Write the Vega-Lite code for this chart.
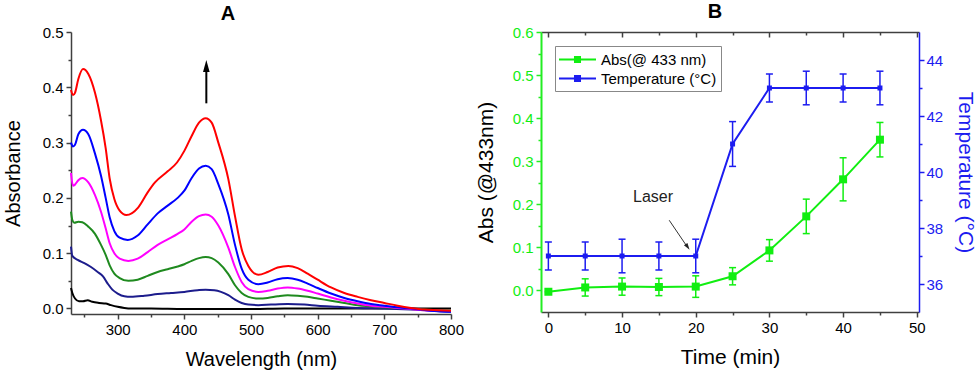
{
 "$schema": "https://vega.github.io/schema/vega-lite/v6.json",
 "padding": {"left": 3, "right": 3, "top": 2, "bottom": 3},
 "spacing": 11,
 "resolve": {"scale": {"color": "independent", "stroke": "independent"}, "legend": {"color": "independent", "stroke": "independent"}},
 "config": {
  "font": "Liberation Sans",
  "view": {"stroke": null},
  "axis": {"grid": false, "labelOverlap": false, "labelFontSize": 15, "titleFontSize": 20, "titleFontWeight": "normal", "labelColor": "#000", "titleColor": "#000", "domainColor": "#404040", "tickColor": "#404040", "domainWidth": 1.5, "tickWidth": 1.5, "tickSize": 5}
 },
 "datasets": {
  "spectra": [
   {"nm":230,"a":0.037,"s":"s1"},{"nm":232,"a":0.028,"s":"s1"},{"nm":236,"a":0.018,"s":"s1"},{"nm":242,"a":0.013,"s":"s1"},{"nm":248,"a":0.013,"s":"s1"},{"nm":255,"a":0.015,"s":"s1"},{"nm":262,"a":0.012,"s":"s1"},{"nm":272,"a":0.01,"s":"s1"},{"nm":282,"a":0.009,"s":"s1"},{"nm":290,"a":0.006,"s":"s1"},{"nm":300,"a":0.003,"s":"s1"},{"nm":310,"a":0.001,"s":"s1"},{"nm":320,"a":0.0,"s":"s1"},{"nm":350,"a":0.0,"s":"s1"},{"nm":400,"a":-0.001,"s":"s1"},{"nm":450,"a":-0.001,"s":"s1"},{"nm":500,"a":-0.001,"s":"s1"},{"nm":550,"a":0.0,"s":"s1"},{"nm":600,"a":0.0,"s":"s1"},{"nm":650,"a":0.0,"s":"s1"},{"nm":700,"a":0.0,"s":"s1"},{"nm":750,"a":0.0,"s":"s1"},{"nm":800,"a":0.0,"s":"s1"},
   {"nm":230,"a":0.112,"s":"s2"},{"nm":232,"a":0.095,"s":"s2"},{"nm":240,"a":0.088,"s":"s2"},{"nm":250,"a":0.082,"s":"s2"},{"nm":260,"a":0.075,"s":"s2"},{"nm":270,"a":0.066,"s":"s2"},{"nm":278,"a":0.058,"s":"s2"},{"nm":285,"a":0.045,"s":"s2"},{"nm":292,"a":0.034,"s":"s2"},{"nm":300,"a":0.027,"s":"s2"},{"nm":310,"a":0.022,"s":"s2"},{"nm":320,"a":0.021,"s":"s2"},{"nm":340,"a":0.023,"s":"s2"},{"nm":360,"a":0.026,"s":"s2"},{"nm":380,"a":0.028,"s":"s2"},{"nm":400,"a":0.03,"s":"s2"},{"nm":420,"a":0.033,"s":"s2"},{"nm":432,"a":0.034,"s":"s2"},{"nm":445,"a":0.033,"s":"s2"},{"nm":455,"a":0.03,"s":"s2"},{"nm":466,"a":0.024,"s":"s2"},{"nm":476,"a":0.016,"s":"s2"},{"nm":486,"a":0.01,"s":"s2"},{"nm":496,"a":0.007,"s":"s2"},{"nm":511,"a":0.006,"s":"s2"},{"nm":530,"a":0.007,"s":"s2"},{"nm":555,"a":0.008,"s":"s2"},{"nm":580,"a":0.007,"s":"s2"},{"nm":600,"a":0.005,"s":"s2"},{"nm":630,"a":0.003,"s":"s2"},{"nm":660,"a":0.001,"s":"s2"},{"nm":700,"a":0.0,"s":"s2"},{"nm":740,"a":-0.002,"s":"s2"},{"nm":770,"a":-0.004,"s":"s2"},{"nm":800,"a":-0.006,"s":"s2"},
   {"nm":230,"a":0.175,"s":"s3"},{"nm":232,"a":0.16,"s":"s3"},{"nm":235,"a":0.155,"s":"s3"},{"nm":241,"a":0.157,"s":"s3"},{"nm":247,"a":0.156,"s":"s3"},{"nm":256,"a":0.148,"s":"s3"},{"nm":266,"a":0.135,"s":"s3"},{"nm":275,"a":0.115,"s":"s3"},{"nm":282,"a":0.097,"s":"s3"},{"nm":288,"a":0.078,"s":"s3"},{"nm":295,"a":0.063,"s":"s3"},{"nm":303,"a":0.055,"s":"s3"},{"nm":316,"a":0.05,"s":"s3"},{"nm":330,"a":0.052,"s":"s3"},{"nm":345,"a":0.059,"s":"s3"},{"nm":360,"a":0.066,"s":"s3"},{"nm":375,"a":0.071,"s":"s3"},{"nm":390,"a":0.076,"s":"s3"},{"nm":400,"a":0.08,"s":"s3"},{"nm":411,"a":0.086,"s":"s3"},{"nm":422,"a":0.091,"s":"s3"},{"nm":432,"a":0.093,"s":"s3"},{"nm":441,"a":0.091,"s":"s3"},{"nm":451,"a":0.083,"s":"s3"},{"nm":466,"a":0.062,"s":"s3"},{"nm":476,"a":0.042,"s":"s3"},{"nm":486,"a":0.028,"s":"s3"},{"nm":496,"a":0.021,"s":"s3"},{"nm":511,"a":0.018,"s":"s3"},{"nm":525,"a":0.019,"s":"s3"},{"nm":540,"a":0.022,"s":"s3"},{"nm":555,"a":0.024,"s":"s3"},{"nm":570,"a":0.023,"s":"s3"},{"nm":585,"a":0.021,"s":"s3"},{"nm":600,"a":0.018,"s":"s3"},{"nm":620,"a":0.014,"s":"s3"},{"nm":640,"a":0.01,"s":"s3"},{"nm":660,"a":0.006,"s":"s3"},{"nm":680,"a":0.004,"s":"s3"},{"nm":700,"a":0.002,"s":"s3"},{"nm":720,"a":0.001,"s":"s3"},{"nm":740,"a":0.0,"s":"s3"},{"nm":760,"a":-0.002,"s":"s3"},{"nm":780,"a":-0.003,"s":"s3"},{"nm":800,"a":-0.004,"s":"s3"},
   {"nm":230,"a":0.245,"s":"s4"},{"nm":233,"a":0.222,"s":"s4"},{"nm":236,"a":0.224,"s":"s4"},{"nm":241,"a":0.232,"s":"s4"},{"nm":247,"a":0.236,"s":"s4"},{"nm":256,"a":0.228,"s":"s4"},{"nm":266,"a":0.205,"s":"s4"},{"nm":275,"a":0.175,"s":"s4"},{"nm":282,"a":0.145,"s":"s4"},{"nm":288,"a":0.118,"s":"s4"},{"nm":295,"a":0.1,"s":"s4"},{"nm":303,"a":0.09,"s":"s4"},{"nm":316,"a":0.086,"s":"s4"},{"nm":330,"a":0.09,"s":"s4"},{"nm":345,"a":0.102,"s":"s4"},{"nm":360,"a":0.115,"s":"s4"},{"nm":375,"a":0.125,"s":"s4"},{"nm":390,"a":0.135,"s":"s4"},{"nm":400,"a":0.143,"s":"s4"},{"nm":411,"a":0.157,"s":"s4"},{"nm":422,"a":0.167,"s":"s4"},{"nm":432,"a":0.17,"s":"s4"},{"nm":441,"a":0.166,"s":"s4"},{"nm":451,"a":0.15,"s":"s4"},{"nm":466,"a":0.11,"s":"s4"},{"nm":476,"a":0.075,"s":"s4"},{"nm":486,"a":0.048,"s":"s4"},{"nm":496,"a":0.035,"s":"s4"},{"nm":511,"a":0.03,"s":"s4"},{"nm":525,"a":0.032,"s":"s4"},{"nm":540,"a":0.036,"s":"s4"},{"nm":555,"a":0.038,"s":"s4"},{"nm":570,"a":0.036,"s":"s4"},{"nm":585,"a":0.032,"s":"s4"},{"nm":600,"a":0.027,"s":"s4"},{"nm":620,"a":0.02,"s":"s4"},{"nm":640,"a":0.014,"s":"s4"},{"nm":660,"a":0.009,"s":"s4"},{"nm":680,"a":0.005,"s":"s4"},{"nm":700,"a":0.003,"s":"s4"},{"nm":720,"a":0.001,"s":"s4"},{"nm":740,"a":-0.001,"s":"s4"},{"nm":760,"a":-0.003,"s":"s4"},{"nm":780,"a":-0.004,"s":"s4"},{"nm":800,"a":-0.005,"s":"s4"},
   {"nm":230,"a":0.3,"s":"s5"},{"nm":233,"a":0.293,"s":"s5"},{"nm":236,"a":0.296,"s":"s5"},{"nm":241,"a":0.315,"s":"s5"},{"nm":248,"a":0.323,"s":"s5"},{"nm":256,"a":0.315,"s":"s5"},{"nm":266,"a":0.28,"s":"s5"},{"nm":275,"a":0.24,"s":"s5"},{"nm":282,"a":0.2,"s":"s5"},{"nm":288,"a":0.165,"s":"s5"},{"nm":295,"a":0.14,"s":"s5"},{"nm":303,"a":0.128,"s":"s5"},{"nm":315,"a":0.124,"s":"s5"},{"nm":330,"a":0.132,"s":"s5"},{"nm":345,"a":0.152,"s":"s5"},{"nm":360,"a":0.172,"s":"s5"},{"nm":375,"a":0.186,"s":"s5"},{"nm":390,"a":0.2,"s":"s5"},{"nm":400,"a":0.213,"s":"s5"},{"nm":411,"a":0.236,"s":"s5"},{"nm":422,"a":0.253,"s":"s5"},{"nm":432,"a":0.258,"s":"s5"},{"nm":441,"a":0.252,"s":"s5"},{"nm":451,"a":0.225,"s":"s5"},{"nm":466,"a":0.17,"s":"s5"},{"nm":476,"a":0.115,"s":"s5"},{"nm":486,"a":0.072,"s":"s5"},{"nm":496,"a":0.052,"s":"s5"},{"nm":511,"a":0.044,"s":"s5"},{"nm":525,"a":0.047,"s":"s5"},{"nm":540,"a":0.053,"s":"s5"},{"nm":555,"a":0.055,"s":"s5"},{"nm":570,"a":0.052,"s":"s5"},{"nm":585,"a":0.045,"s":"s5"},{"nm":600,"a":0.037,"s":"s5"},{"nm":620,"a":0.027,"s":"s5"},{"nm":640,"a":0.019,"s":"s5"},{"nm":660,"a":0.013,"s":"s5"},{"nm":680,"a":0.008,"s":"s5"},{"nm":700,"a":0.005,"s":"s5"},{"nm":720,"a":0.002,"s":"s5"},{"nm":740,"a":0.0,"s":"s5"},{"nm":760,"a":-0.003,"s":"s5"},{"nm":780,"a":-0.005,"s":"s5"},{"nm":800,"a":-0.006,"s":"s5"},
   {"nm":230,"a":0.395,"s":"s6"},{"nm":233,"a":0.386,"s":"s6"},{"nm":236,"a":0.39,"s":"s6"},{"nm":241,"a":0.415,"s":"s6"},{"nm":248,"a":0.433,"s":"s6"},{"nm":256,"a":0.424,"s":"s6"},{"nm":266,"a":0.39,"s":"s6"},{"nm":275,"a":0.34,"s":"s6"},{"nm":282,"a":0.29,"s":"s6"},{"nm":288,"a":0.235,"s":"s6"},{"nm":295,"a":0.198,"s":"s6"},{"nm":303,"a":0.177,"s":"s6"},{"nm":313,"a":0.169,"s":"s6"},{"nm":331,"a":0.183,"s":"s6"},{"nm":345,"a":0.21,"s":"s6"},{"nm":356,"a":0.228,"s":"s6"},{"nm":375,"a":0.248,"s":"s6"},{"nm":389,"a":0.264,"s":"s6"},{"nm":400,"a":0.285,"s":"s6"},{"nm":411,"a":0.312,"s":"s6"},{"nm":422,"a":0.336,"s":"s6"},{"nm":432,"a":0.344,"s":"s6"},{"nm":441,"a":0.336,"s":"s6"},{"nm":451,"a":0.3,"s":"s6"},{"nm":466,"a":0.234,"s":"s6"},{"nm":476,"a":0.167,"s":"s6"},{"nm":486,"a":0.107,"s":"s6"},{"nm":496,"a":0.077,"s":"s6"},{"nm":511,"a":0.061,"s":"s6"},{"nm":525,"a":0.066,"s":"s6"},{"nm":540,"a":0.074,"s":"s6"},{"nm":556,"a":0.077,"s":"s6"},{"nm":570,"a":0.073,"s":"s6"},{"nm":585,"a":0.063,"s":"s6"},{"nm":600,"a":0.052,"s":"s6"},{"nm":620,"a":0.038,"s":"s6"},{"nm":640,"a":0.028,"s":"s6"},{"nm":660,"a":0.021,"s":"s6"},{"nm":680,"a":0.015,"s":"s6"},{"nm":700,"a":0.01,"s":"s6"},{"nm":720,"a":0.005,"s":"s6"},{"nm":740,"a":0.001,"s":"s6"},{"nm":760,"a":-0.002,"s":"s6"},{"nm":780,"a":-0.003,"s":"s6"},{"nm":800,"a":-0.004,"s":"s6"}
  ],
  "arrowA": [{"nm": 433, "y1": 0.371, "y2": 0.43, "tip": 0.4385}],
  "absb": [
   {"t":0,"v":-0.003,"lo":-0.003,"hi":-0.003,"series":"Abs(@ 433 nm)"},
   {"t":5,"v":0.007,"lo":-0.013,"hi":0.027,"series":"Abs(@ 433 nm)"},
   {"t":10,"v":0.009,"lo":-0.011,"hi":0.029,"series":"Abs(@ 433 nm)"},
   {"t":15,"v":0.008,"lo":-0.012,"hi":0.028,"series":"Abs(@ 433 nm)"},
   {"t":20,"v":0.009,"lo":-0.016,"hi":0.034,"series":"Abs(@ 433 nm)"},
   {"t":25,"v":0.033,"lo":0.013,"hi":0.053,"series":"Abs(@ 433 nm)"},
   {"t":30,"v":0.093,"lo":0.068,"hi":0.118,"series":"Abs(@ 433 nm)"},
   {"t":35,"v":0.172,"lo":0.132,"hi":0.212,"series":"Abs(@ 433 nm)"},
   {"t":40,"v":0.258,"lo":0.208,"hi":0.308,"series":"Abs(@ 433 nm)"},
   {"t":45,"v":0.35,"lo":0.31,"hi":0.39,"series":"Abs(@ 433 nm)"}
  ],
  "tempb": [
   {"t":0,"v":37,"lo":36.5,"hi":37.5,"series":"Temperature (°C)"},
   {"t":5,"v":37,"lo":36.5,"hi":37.5,"series":"Temperature (°C)"},
   {"t":10,"v":37,"lo":36.4,"hi":37.6,"series":"Temperature (°C)"},
   {"t":15,"v":37,"lo":36.5,"hi":37.5,"series":"Temperature (°C)"},
   {"t":20,"v":37,"lo":36.4,"hi":37.6,"series":"Temperature (°C)"},
   {"t":25,"v":41,"lo":40.2,"hi":41.8,"series":"Temperature (°C)"},
   {"t":30,"v":43,"lo":42.5,"hi":43.5,"series":"Temperature (°C)"},
   {"t":35,"v":43,"lo":42.4,"hi":43.6,"series":"Temperature (°C)"},
   {"t":40,"v":43,"lo":42.5,"hi":43.5,"series":"Temperature (°C)"},
   {"t":45,"v":43,"lo":42.4,"hi":43.6,"series":"Temperature (°C)"}
  ],
  "laser": [{"t": 14.2, "v": 0.216, "label": "Laser", "t1": 16.4, "v1": 0.163, "t2": 18.7, "v2": 0.105, "th": 18.9, "vh": 0.101}]
 },
 "hconcat": [
  {
   "width": 380,
   "height": 282,
   "title": {"text": "A", "fontSize": 20, "fontWeight": "bold", "offset": 1, "dx": -33, "anchor": "middle"},
   "resolve": {"axis": {"x": "independent", "y": "independent"}},
   "layer": [
    {
     "data": {"name": "spectra"},
     "mark": {"type": "line", "strokeWidth": 2, "interpolate": "monotone"},
     "encoding": {
      "x": {"field": "nm", "type": "quantitative", "scale": {"domain": [230, 800], "nice": false, "zero": false},
            "axis": {"orient": "bottom", "title": "Wavelength (nm)", "values": [300,400,500,600,700,800], "labelFlush": false,
                     "labelPadding": 3, "titlePadding": 12}},
      "y": {"field": "a", "type": "quantitative", "scale": {"domain": [-0.01, 0.5], "nice": false, "zero": false},
            "axis": {"orient": "left", "title": "Absorbance", "values": [0,0.1,0.2,0.3,0.4,0.5], "format": ".1f",
                     "labelPadding": 3, "titlePadding": 19}},
      "stroke": {"field": "s", "type": "nominal", "legend": null,
                 "scale": {"domain": ["s1","s2","s3","s4","s5","s6"], "range": ["#000000","#1c1c8c","#1f8a1f","#ff00ff","#0000ff","#ff0000"]}}
     }
    },
    {
     "data": {"name": "arrowA"},
     "mark": {"type": "rule", "strokeWidth": 2, "color": "#000"},
     "encoding": {
      "x": {"field": "nm", "type": "quantitative", "axis": {"orient": "bottom", "values": [250,350,450,550,650,750], "labels": false, "domain": false, "title": null, "tickSize": 3}},
      "y": {"field": "y1", "type": "quantitative", "axis": {"orient": "left", "values": [0.05,0.15,0.25,0.35,0.45], "labels": false, "domain": false, "title": null, "tickSize": 3}},
      "y2": {"field": "y2"}}
    },
    {
     "data": {"name": "arrowA"},
     "mark": {"type": "point", "shape": "M0,-1L0.55,1L-0.55,1Z", "filled": true, "size": 144, "color": "#000", "opacity": 1},
     "encoding": {"x": {"field": "nm", "type": "quantitative", "axis": null}, "y": {"field": "tip", "type": "quantitative", "axis": null}}
    }
   ]
  },
  {
   "width": 378,
   "height": 280,
   "title": {"text": "B", "fontSize": 20, "fontWeight": "bold", "offset": 3, "dx": -15, "anchor": "middle"},
   "resolve": {"scale": {"y": "independent"}, "axis": {"x": "independent", "y": "independent"}},
   "layer": [
    {
     "data": {"name": "absb"},
     "mark": {"type": "line", "strokeWidth": 2, "color": "#11ee11"},
     "encoding": {
      "x": {"field": "t", "type": "quantitative", "scale": {"domain": [-1, 50.3], "nice": false, "zero": false},
            "axis": {"orient": "bottom", "title": "Time (min)", "titleFontSize": 21, "values": [0,10,20,30,40,50], "labelFlush": false,
                     "labelPadding": 3, "titlePadding": 11}},
      "y": {"field": "v", "type": "quantitative", "scale": {"domain": [-0.05, 0.6], "nice": false, "zero": false},
            "axis": {"orient": "left", "title": "Abs (@433nm)", "titleFontSize": 21, "values": [0,0.1,0.2,0.3,0.4,0.5,0.6], "format": ".1f",
                     "domainColor": "#22ee22", "tickColor": "#22ee22", "labelColor": "#11ee11", "domainWidth": 2,
                     "labelPadding": 3, "titlePadding": 16}}
     }
    },
    {
     "data": {"name": "absb"},
     "mark": {"type": "rule", "strokeWidth": 1.5, "color": "#11ee11"},
     "encoding": {
      "x": {"field": "t", "type": "quantitative", "axis": {"orient": "bottom", "values": [5,15,25,35,45], "labels": false, "domain": false, "title": null, "tickSize": 3}},
      "y": {"field": "lo", "type": "quantitative", "scale": {"domain": [-0.05, 0.6], "nice": false, "zero": false},
            "axis": {"orient": "left", "values": [0.05,0.15,0.25,0.35,0.45,0.55], "labels": false, "domain": false, "title": null, "tickSize": 3, "tickColor": "#22ee22"}},
      "y2": {"field": "hi"}}
    },
    {
     "data": {"name": "absb"},
     "mark": {"type": "tick", "orient": "horizontal", "size": 7, "thickness": 1.5, "color": "#11ee11", "opacity": 1},
     "encoding": {"x": {"field": "t", "type": "quantitative", "axis": null}, "y": {"field": "lo", "type": "quantitative", "scale": {"domain": [-0.05, 0.6], "nice": false, "zero": false}, "axis": null}}
    },
    {
     "data": {"name": "absb"},
     "mark": {"type": "tick", "orient": "horizontal", "size": 7, "thickness": 1.5, "color": "#11ee11", "opacity": 1},
     "encoding": {"x": {"field": "t", "type": "quantitative", "axis": null}, "y": {"field": "hi", "type": "quantitative", "scale": {"domain": [-0.05, 0.6], "nice": false, "zero": false}, "axis": null}}
    },
    {
     "data": {"name": "absb"},
     "mark": {"type": "point", "shape": "square", "filled": true, "size": 64, "opacity": 1},
     "encoding": {
      "x": {"field": "t", "type": "quantitative", "axis": null},
      "y": {"field": "v", "type": "quantitative", "scale": {"domain": [-0.05, 0.6], "nice": false, "zero": false}, "axis": null},
      "color": {"field": "series", "type": "nominal",
                "scale": {"domain": ["Abs(@ 433 nm)", "Temperature (°C)"], "range": ["#11ee11", "#1c1cf0"]},
                "legend": {"title": null, "orient": "top-left", "offset": 14, "strokeColor": "#888", "fillColor": "#fff", "padding": 4,
                           "labelFontSize": 15, "labelColor": "#000", "labelOffset": 14, "rowPadding": 1, "labelLimit": 400,
                           "symbolType": "M-2,-0.11H2V0.11H-2ZM-0.38,-0.38H0.38V0.38H-0.38Z", "symbolSize": 342, "symbolOffset": 9, "symbolStrokeWidth": 0}}
     }
    },
    {
     "data": {"name": "laser"},
     "mark": {"type": "text", "fontSize": 16, "color": "#222"},
     "encoding": {"x": {"field": "t", "type": "quantitative", "axis": null}, "y": {"field": "v", "type": "quantitative", "scale": {"domain": [-0.05, 0.6], "nice": false, "zero": false}, "axis": null}, "text": {"field": "label"}}
    },
    {
     "data": {"name": "laser"},
     "mark": {"type": "rule", "strokeWidth": 1, "color": "#333"},
     "encoding": {"x": {"field": "t1", "type": "quantitative", "axis": null}, "y": {"field": "v1", "type": "quantitative", "scale": {"domain": [-0.05, 0.6], "nice": false, "zero": false}, "axis": null}, "x2": {"field": "t2"}, "y2": {"field": "v2"}}
    },
    {
     "data": {"name": "laser"},
     "mark": {"type": "point", "shape": "M0,-1L0.6,1L-0.6,1Z", "filled": true, "size": 49, "color": "#222", "opacity": 1, "angle": 146.5},
     "encoding": {"x": {"field": "th", "type": "quantitative", "axis": null}, "y": {"field": "vh", "type": "quantitative", "scale": {"domain": [-0.05, 0.6], "nice": false, "zero": false}, "axis": null}}
    },
    {
     "data": {"name": "tempb"},
     "mark": {"type": "line", "strokeWidth": 2, "color": "#1c1cf0"},
     "encoding": {
      "x": {"field": "t", "type": "quantitative",
            "axis": {"orient": "top", "title": null, "labels": false, "values": [0,10,20,30,40,50], "tickSize": -5}},
      "y": {"field": "v", "type": "quantitative", "scale": {"domain": [35, 45], "nice": false, "zero": false},
            "axis": {"orient": "right", "title": "Temperature (°C)", "titleFontSize": 21, "titleColor": "#1c1cf0", "values": [36,38,40,42,44],
                     "domainColor": "#1c1cf0", "tickColor": "#1c1cf0", "labelColor": "#1c1cf0",
                     "labelPadding": 2, "titlePadding": 12}}
     }
    },
    {
     "data": {"name": "tempb"},
     "mark": {"type": "rule", "strokeWidth": 1.5, "color": "#1c1cf0"},
     "encoding": {
      "x": {"field": "t", "type": "quantitative", "axis": {"orient": "top", "values": [5,15,25,35,45], "labels": false, "domain": false, "title": null, "tickSize": -3}},
      "y": {"field": "lo", "type": "quantitative", "scale": {"domain": [35, 45], "nice": false, "zero": false},
            "axis": {"orient": "right", "values": [37,39,41,43], "labels": false, "domain": false, "title": null, "tickSize": 3, "tickColor": "#1c1cf0"}},
      "y2": {"field": "hi"}}
    },
    {
     "data": {"name": "tempb"},
     "mark": {"type": "tick", "orient": "horizontal", "size": 7, "thickness": 1.5, "color": "#1c1cf0", "opacity": 1},
     "encoding": {"x": {"field": "t", "type": "quantitative", "axis": null}, "y": {"field": "lo", "type": "quantitative", "scale": {"domain": [35, 45], "nice": false, "zero": false}, "axis": null}}
    },
    {
     "data": {"name": "tempb"},
     "mark": {"type": "tick", "orient": "horizontal", "size": 7, "thickness": 1.5, "color": "#1c1cf0", "opacity": 1},
     "encoding": {"x": {"field": "t", "type": "quantitative", "axis": null}, "y": {"field": "hi", "type": "quantitative", "scale": {"domain": [35, 45], "nice": false, "zero": false}, "axis": null}}
    },
    {
     "data": {"name": "tempb"},
     "mark": {"type": "point", "shape": "square", "filled": true, "size": 25, "opacity": 1},
     "encoding": {
      "x": {"field": "t", "type": "quantitative", "axis": null},
      "y": {"field": "v", "type": "quantitative", "scale": {"domain": [35, 45], "nice": false, "zero": false}, "axis": null},
      "color": {"field": "series", "type": "nominal", "scale": {"domain": ["Abs(@ 433 nm)", "Temperature (°C)"], "range": ["#11ee11", "#1c1cf0"]}}
     }
    }
   ]
  }
 ]
}
